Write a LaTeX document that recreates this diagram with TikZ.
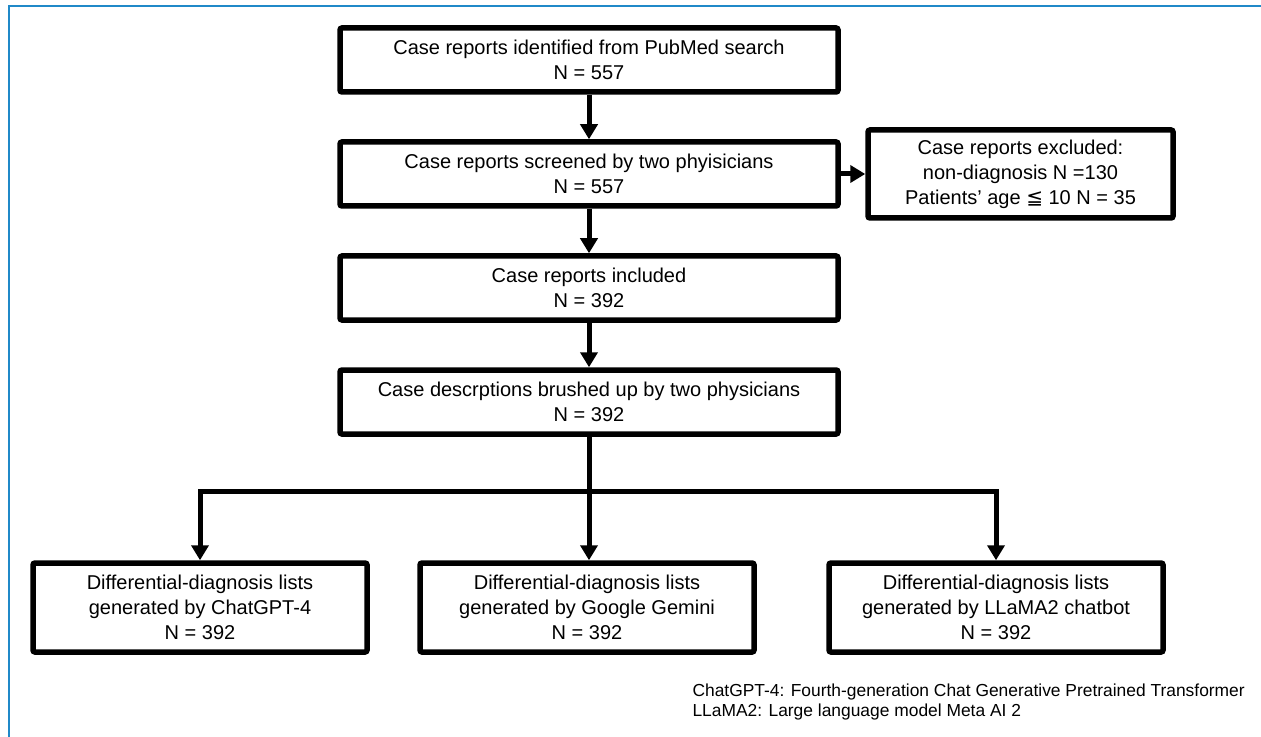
\documentclass[tikz,border=0pt]{standalone}
\usepackage{fontspec}
\setmainfont{Liberation Sans}
\newfontfamily\symfont{DejaVu Sans}
\usetikzlibrary{arrows.meta}
\definecolor{frameblue}{RGB}{32,137,200}

\begin{document}
\begin{tikzpicture}[x=0.5pt,y=-0.5pt,->,>={Triangle[length=7.5pt,width=8.5pt]},
		line width=2.5pt, node distance=57pt]
		\tikzstyle{flowbox}=[draw=black,line width=2.75pt,rounded corners=1pt,
			minimum width=249pt,minimum height=32pt,align=center,inner sep=2pt,
			font=\fontsize{10}{12.5}\selectfont]
		\tikzstyle{listbox}=[flowbox,minimum width=167pt,minimum height=44.5pt]
		\tikzstyle{note}=[align=left,inner sep=0pt,font=\fontsize{8.7}{10}\selectfont]

		\useasboundingbox (0,0) rectangle (1261,737);
		\draw[-,frameblue,line width=1pt] (8.5,737) -- (8.5,6) -- (1261,6);

		\node[flowbox]	(1) at (589,60)		{Case reports identified from PubMed search\\N = 557};
		\node[flowbox]	(2) [below of=1]	{Case reports screened by two phyisicians\\N = 557};
		\node[flowbox]	(3) [below of=2]	{Case reports included\\N = 392};
		\node[flowbox]	(4) [below of=3]	{Case descrptions brushed up by two physicians\\N = 392};
		\node[flowbox,minimum width=152.5pt,minimum height=44pt]
						(ex) [right of=2,node distance=215.75pt]
						{Case reports excluded:\\non-diagnosis N =130\\Patients’ age {\symfont ≦} 10 N = 35};

		\coordinate	(split) at (589,491);
		\node[listbox]	(gpt) at (200,607.5)	{Differential-diagnosis lists\\generated by ChatGPT-4\\N = 392};
		\node[listbox]	(gem) at (587,607.5)	{Differential-diagnosis lists\\generated by Google Gemini\\N = 392};
		\node[listbox]	(lla) at (996,607.5)	{Differential-diagnosis lists\\generated by LLaMA2 chatbot\\N = 392};

		\node[note,anchor=north west] (fn) at (690,681)
			{ChatGPT-4: Fourth-generation Chat Generative Pretrained Transformer\\
			 LLaMA2: Large language model Meta AI 2};

		\draw (1) -- (2);
		\draw (2) -- (3);
		\draw (3) -- (4);
		\draw (2) -- (ex);
		\draw[-] (4) -- (split);
		\draw (split) -| (gpt);
		\draw (split) -- (split |- gem.north);
		\draw (split) -| (lla);
\end{tikzpicture}
\end{document}
